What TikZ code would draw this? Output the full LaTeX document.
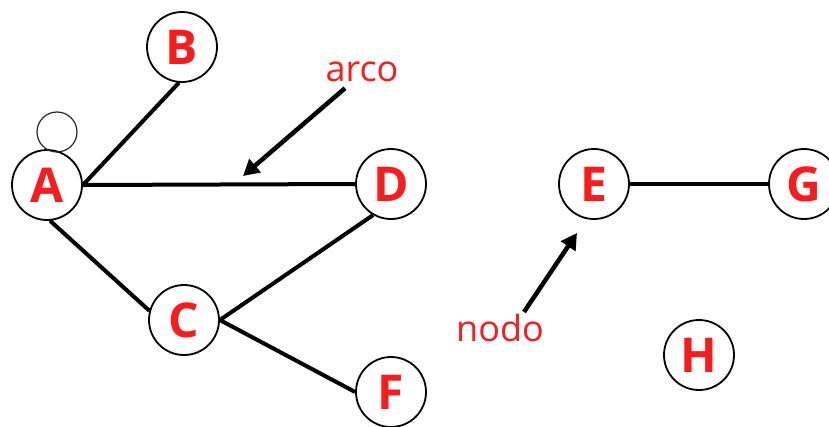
\documentclass[tikz,border=0pt]{standalone}
\usepackage{fontspec}
\setmainfont{Open Sans}
\usetikzlibrary{arrows.meta}
\definecolor{lblred}{RGB}{250,28,28}
\tikzset{
  vertex/.style={circle, draw=black, line width=1.8pt, fill=white, minimum size=70pt, inner sep=0pt,
    text=lblred, font=\fontsize{48}{48}\selectfont\bfseries},
  smallc/.style={circle, draw=black!85, line width=1.2pt, minimum size=40pt, inner sep=0pt},
  edge/.style={line width=4pt, black},
  note/.style={text=lblred, font=\fontsize{36}{36}\selectfont, inner sep=1pt},
  pointer/.style={line width=4.5pt, black, -{Triangle[length=16pt,width=17pt]}}
}
\begin{document}
\begin{tikzpicture}[x=1pt,y=-1pt]
\useasboundingbox (0,0) rectangle (829,426);
\node[vertex] (B) at (182,47) {B};
\node[vertex] (A) at (47,185) {A};
\node[vertex] (D) at (391,184) {D};
\node[vertex] (C) at (184,320) {C};
\node[vertex] (F) at (391,392) {F};
\node[vertex] (E) at (594,184) {E};
\node[vertex] (G) at (804,184) {G};
\node[vertex] (H) at (699,355) {H};
\node[smallc] (L) at (57,132) {};
\draw[edge] (A.east) -- (B.-95);
\draw[edge] (A.east) -- (D.west);
\draw[edge] (A.-85) -- (C.165);
\draw[edge] (C.east) -- (D.240);
\draw[edge] (C.east) -- (F.west);
\draw[edge] (E.east) -- (G.west);
\node[note] (arco) at (362,72) {arco};
\node[note] (nodo) at (500,328) {nodo};
\coordinate (arcotip) at (243,176);
\coordinate (nodotip) at (577,233);
\draw[pointer] ([xshift=-17pt,yshift=-5pt]arco.south) -- (arcotip);
\draw[pointer] ([xshift=24pt,yshift=1pt]nodo.north) -- (nodotip);
\end{tikzpicture}
\end{document}
